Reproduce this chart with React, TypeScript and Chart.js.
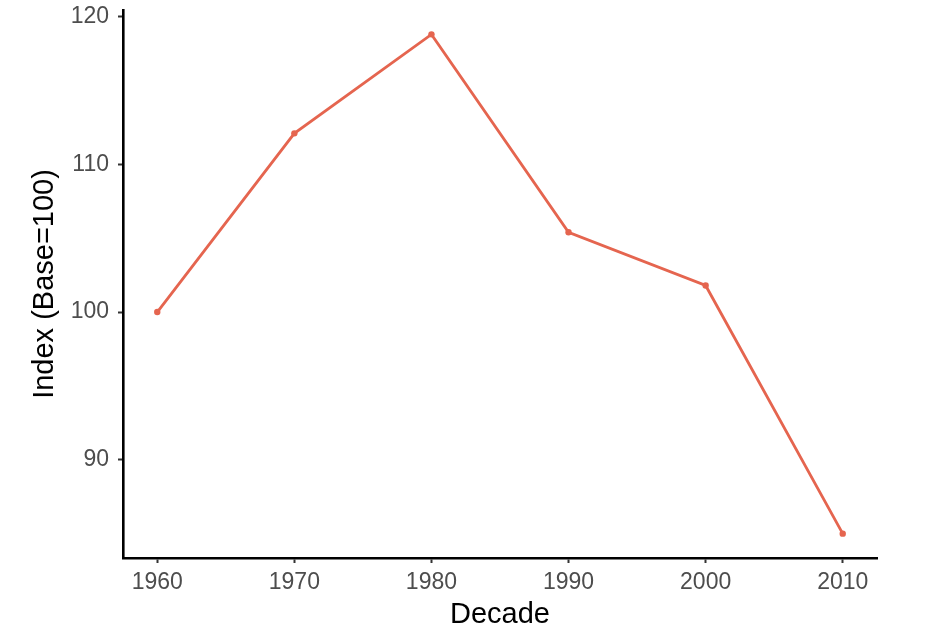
import React, { useEffect, useRef } from "react";
import { Chart, registerables } from "chart.js";

Chart.register(...registerables);

const decades = [1960, 1970, 1980, 1990, 2000, 2010];
const indexValues = [100, 112.1, 118.8, 105.4, 101.8, 85.0];
const yTicks = [90, 100, 110, 120];
const xTitle = "Decade";
const yTitle = "Index (Base=100)";

const LINE_COLOR = "#E5654F";
const FONT = "'Liberation Sans', Arial, Helvetica, sans-serif";

export default function App() {
  const canvasRef = useRef<HTMLCanvasElement | null>(null);

  useEffect(() => {
    const canvas = canvasRef.current;
    if (!canvas) return;
    const chart = new Chart(canvas, {
      type: "line",
      data: {
        datasets: [
          {
            data: decades.map((d, i) => ({ x: d, y: indexValues[i] })),
            borderColor: LINE_COLOR,
            backgroundColor: LINE_COLOR,
            borderWidth: 2.8,
            pointRadius: 3.2,
            pointBorderWidth: 0,
            pointBackgroundColor: LINE_COLOR,
            tension: 0,
            fill: false,
          },
        ],
      },
      options: {
        animation: false,
        responsive: false,
        maintainAspectRatio: false,
        layout: { padding: { top: 10, right: 55, left: 0, bottom: 0 } },
        plugins: {
          legend: { display: false },
          tooltip: { enabled: false },
        },
        scales: {
          x: {
            type: "linear",
            min: 1957.5,
            max: 2012.5,
            afterBuildTicks: (scale: any) => {
              scale.ticks = decades.map((v) => ({ value: v }));
            },
            afterFit: (scale: any) => {
              scale.height = 79;
              scale.paddingLeft = 0;
              scale.paddingRight = 0;
            },
            grid: {
              display: true,
              drawOnChartArea: false,
              drawTicks: true,
              tickLength: 5,
              tickColor: "#333333",
              tickWidth: 2,
            },
            border: { display: true, color: "#000000", width: 2.6 },
            ticks: {
              color: "#4d4d4d",
              font: { family: FONT, size: 23 },
              padding: 6,
              maxRotation: 0,
              autoSkip: false,
              callback: (v: any) => String(v),
            },
            title: {
              display: true,
              text: xTitle,
              color: "#000000",
              font: { family: FONT, size: 29 },
              padding: { top: 0, bottom: 5 },
            },
          },
          y: {
            type: "linear",
            min: 83.35,
            max: 120.45,
            afterBuildTicks: (scale: any) => {
              scale.ticks = yTicks.map((v) => ({ value: v }));
            },
            afterFit: (scale: any) => {
              scale.width = 123;
              scale.paddingTop = 0;
              scale.paddingBottom = 0;
            },
            grid: {
              display: true,
              drawOnChartArea: false,
              drawTicks: true,
              tickLength: 5,
              tickColor: "#333333",
              tickWidth: 2,
            },
            border: { display: true, color: "#000000", width: 2.6 },
            ticks: {
              color: "#4d4d4d",
              font: { family: FONT, size: 23 },
              padding: 9,
              callback: (v: any) => String(v),
            },
            title: {
              display: true,
              text: yTitle,
              color: "#000000",
              font: { family: FONT, size: 29 },
              padding: { top: 28, bottom: 0 },
            },
          },
        },
      },
    });
    return () => chart.destroy();
  }, []);

  return (
    <div
      style={{
        position: "fixed",
        left: 0,
        top: 0,
        width: 932,
        height: 637,
        background: "#ffffff",
      }}
    >
      <canvas ref={canvasRef} width={932} height={637} style={{ display: "block" }} />
    </div>
  );
}
